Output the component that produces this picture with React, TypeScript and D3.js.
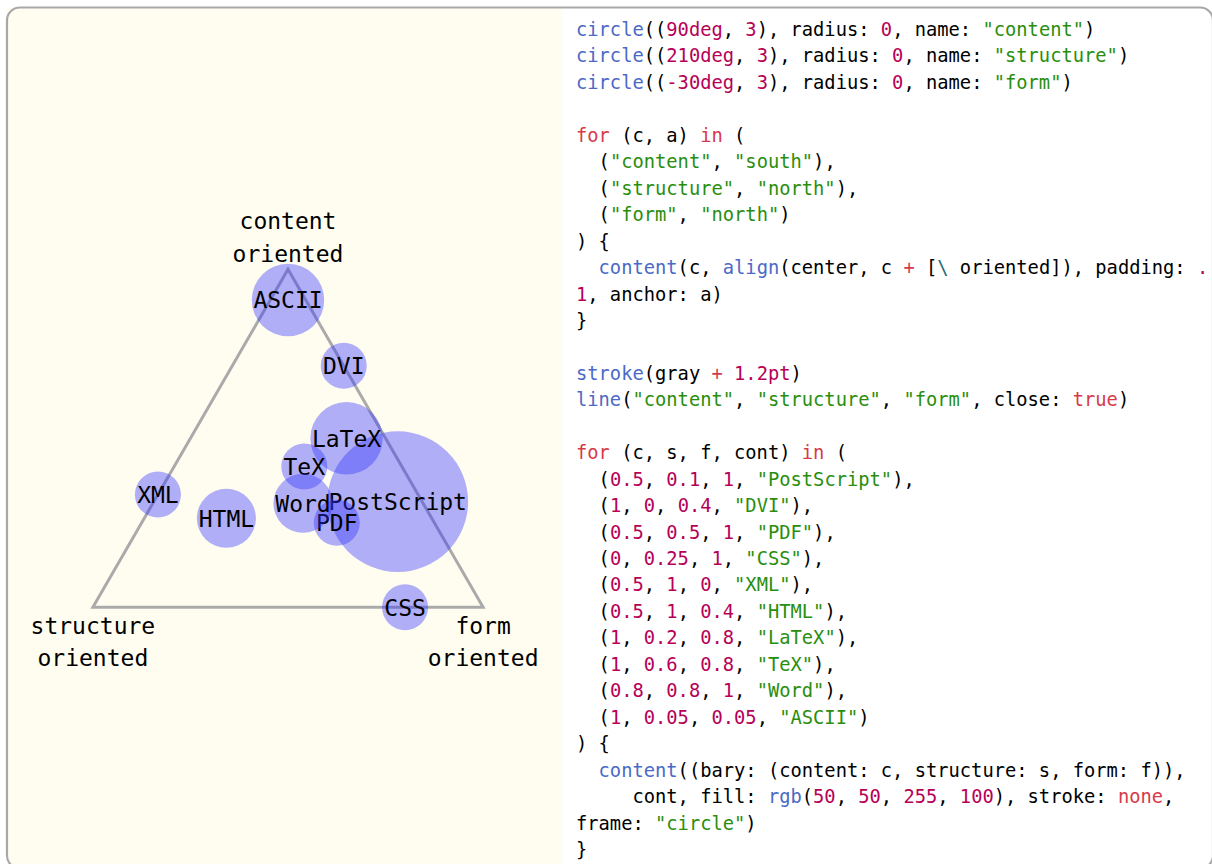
import React, { useEffect, useRef } from "react";
import * as d3 from "d3";

// barycentric weights per format
const formats = ["PostScript", "DVI", "PDF", "CSS", "XML", "HTML", "LaTeX", "TeX", "Word", "ASCII"];
const contentW = [0.5, 1, 0.5, 0, 0.5, 0.5, 1, 1, 0.8, 1];
const structureW = [0.1, 0, 0.5, 0.25, 1, 1, 0.2, 0.6, 0.8, 0.05];
const formW = [1, 0.4, 1, 1, 0, 0.4, 0.8, 0.8, 1, 0.05];

const corners = ["content", "structure", "form"];
const cornerAngles = [90, 210, -30];

// code listing, one array of [kind, text] per line
type Tok = [string, string];
const codeLines: Tok[][] = [
  [["f", "circle"], ["p", "(("], ["n", "90deg"], ["p", ", "], ["n", "3"], ["p", "), radius: "], ["n", "0"], ["p", ", name: "], ["s", '"content"'], ["p", ")"]],
  [["f", "circle"], ["p", "(("], ["n", "210deg"], ["p", ", "], ["n", "3"], ["p", "), radius: "], ["n", "0"], ["p", ", name: "], ["s", '"structure"'], ["p", ")"]],
  [["f", "circle"], ["p", "(("], ["n", "-30deg"], ["p", ", "], ["n", "3"], ["p", "), radius: "], ["n", "0"], ["p", ", name: "], ["s", '"form"'], ["p", ")"]],
  [],
  [["k", "for"], ["p", " (c, a) "], ["k", "in"], ["p", " ("]],
  [["p", "  ("], ["s", '"content"'], ["p", ", "], ["s", '"south"'], ["p", "),"]],
  [["p", "  ("], ["s", '"structure"'], ["p", ", "], ["s", '"north"'], ["p", "),"]],
  [["p", "  ("], ["s", '"form"'], ["p", ", "], ["s", '"north"'], ["p", ")"]],
  [["p", ") {"]],
  [["p", "  "], ["f", "content"], ["p", "(c, "], ["f", "align"], ["p", "(center, c "], ["k", "+"], ["p", " ["], ["e", "\\"], ["p", " oriented]), padding: "], ["n", "."]],
  [["n", "1"], ["p", ", anchor: a)"]],
  [["p", "}"]],
  [],
  [["f", "stroke"], ["p", "(gray "], ["k", "+"], ["p", " "], ["n", "1.2pt"], ["p", ")"]],
  [["f", "line"], ["p", "("], ["s", '"content"'], ["p", ", "], ["s", '"structure"'], ["p", ", "], ["s", '"form"'], ["p", ", close: "], ["k", "true"], ["p", ")"]],
  [],
  [["k", "for"], ["p", " (c, s, f, cont) "], ["k", "in"], ["p", " ("]],
  [["p", "  ("], ["n", "0.5"], ["p", ", "], ["n", "0.1"], ["p", ", "], ["n", "1"], ["p", ", "], ["s", '"PostScript"'], ["p", "),"]],
  [["p", "  ("], ["n", "1"], ["p", ", "], ["n", "0"], ["p", ", "], ["n", "0.4"], ["p", ", "], ["s", '"DVI"'], ["p", "),"]],
  [["p", "  ("], ["n", "0.5"], ["p", ", "], ["n", "0.5"], ["p", ", "], ["n", "1"], ["p", ", "], ["s", '"PDF"'], ["p", "),"]],
  [["p", "  ("], ["n", "0"], ["p", ", "], ["n", "0.25"], ["p", ", "], ["n", "1"], ["p", ", "], ["s", '"CSS"'], ["p", "),"]],
  [["p", "  ("], ["n", "0.5"], ["p", ", "], ["n", "1"], ["p", ", "], ["n", "0"], ["p", ", "], ["s", '"XML"'], ["p", "),"]],
  [["p", "  ("], ["n", "0.5"], ["p", ", "], ["n", "1"], ["p", ", "], ["n", "0.4"], ["p", ", "], ["s", '"HTML"'], ["p", "),"]],
  [["p", "  ("], ["n", "1"], ["p", ", "], ["n", "0.2"], ["p", ", "], ["n", "0.8"], ["p", ", "], ["s", '"LaTeX"'], ["p", "),"]],
  [["p", "  ("], ["n", "1"], ["p", ", "], ["n", "0.6"], ["p", ", "], ["n", "0.8"], ["p", ", "], ["s", '"TeX"'], ["p", "),"]],
  [["p", "  ("], ["n", "0.8"], ["p", ", "], ["n", "0.8"], ["p", ", "], ["n", "1"], ["p", ", "], ["s", '"Word"'], ["p", "),"]],
  [["p", "  ("], ["n", "1"], ["p", ", "], ["n", "0.05"], ["p", ", "], ["n", "0.05"], ["p", ", "], ["s", '"ASCII"'], ["p", ")"]],
  [["p", ") {"]],
  [["p", "  "], ["f", "content"], ["p", "((bary: (content: c, structure: s, form: f)),"]],
  [["p", "     cont, fill: "], ["f", "rgb"], ["p", "("], ["n", "50"], ["p", ", "], ["n", "50"], ["p", ", "], ["n", "255"], ["p", ", "], ["n", "100"], ["p", "), stroke: "], ["k", "none"], ["p", ","]],
  [["p", "frame: "], ["s", '"circle"'], ["p", ")"]],
  [["p", "}"]],
];

const tokColor: Record<string, string> = {
  f: "#4b69c6",
  n: "#b60157",
  s: "#298e0d",
  k: "#d73a49",
  e: "#1d6c76",
  p: "#000000",
};

const W = 1212;
const H = 864;
const mono = "'DejaVu Sans Mono', monospace";

export default function App() {
  const ref = useRef<SVGSVGElement>(null);

  useEffect(() => {
    const svg = d3.select(ref.current);
    svg.selectAll("*").remove();

    // frame
    svg.append("rect").attr("x", 7).attr("y", 8).attr("width", 555).attr("height", 860).attr("fill", "#fffdf0");
    svg.append("rect").attr("x", 562).attr("y", 8).attr("width", 660).attr("height", 860).attr("fill", "#ffffff");
    svg.append("rect").attr("x", 7).attr("y", 7.5).attr("width", 1206).attr("height", 861)
      .attr("rx", 13).attr("fill", "none").attr("stroke", "#a8a8a8").attr("stroke-width", 2.2);

    // ternary coordinate system
    const unit = 75.1;
    const cx = 288, cy = 494.6;
    const sx = d3.scaleLinear().domain([0, 1]).range([cx, cx + unit]);
    const sy = d3.scaleLinear().domain([0, 1]).range([cy, cy - unit]);
    const vert = cornerAngles.map(a => {
      const r = (a * Math.PI) / 180;
      return [sx(3 * Math.cos(r)), sy(3 * Math.sin(r))] as [number, number];
    });

    const g = svg.append("g");

    // corner labels
    const fs = 23;
    cornerAngles.forEach((a, i) => {
      const [vx, vy] = vert[i];
      const south = a === 90;
      const b1 = south ? vy - 40 : vy + 26.5;
      const t = g.append("text").attr("font-family", mono).attr("font-size", fs).attr("text-anchor", "middle");
      t.append("tspan").attr("x", vx).attr("y", b1).text(corners[i]);
      t.append("tspan").attr("x", vx).attr("y", b1 + 32.5).text("oriented");
    });

    // triangle
    g.append("path")
      .attr("d", d3.line()(vert) + "Z")
      .attr("fill", "none")
      .attr("stroke", "#aaaaaa")
      .attr("stroke-width", 3)
      .attr("stroke-linejoin", "miter");

    // format bubbles
    const cw = 0.602 * fs;
    const capH = 0.73 * fs;
    formats.forEach((name, i) => {
      const wsum = contentW[i] + structureW[i] + formW[i];
      const px = (contentW[i] * vert[0][0] + structureW[i] * vert[1][0] + formW[i] * vert[2][0]) / wsum;
      const py = (contentW[i] * vert[0][1] + structureW[i] * vert[1][1] + formW[i] * vert[2][1]) / wsum;
      const tw = name.length * cw;
      const r = Math.sqrt(tw * tw + capH * capH) / 2 + 0.6;
      g.append("circle").attr("cx", px).attr("cy", py).attr("r", r).attr("fill", "rgba(50,50,255,0.392)");
      g.append("text").attr("x", px).attr("y", py + capH / 2)
        .attr("font-family", mono).attr("font-size", fs).attr("text-anchor", "middle")
        .text(name);
    });

    // code listing
    const code = svg.append("text")
      .attr("font-family", mono)
      .attr("font-size", 18.75)
      .style("white-space", "pre");
    codeLines.forEach((line, i) => {
      const y = 36 + i * 26.45;
      line.forEach((tok, j) => {
        const ts = code.append("tspan").attr("fill", tokColor[tok[0]]).text(tok[1]);
        if (j === 0) ts.attr("x", 576).attr("y", y);
      });
    });
  }, []);

  return (
    <svg
      ref={ref}
      width={W}
      height={H}
      style={{ position: "absolute", left: 0, top: 0, display: "block" }}
    />
  );
}
